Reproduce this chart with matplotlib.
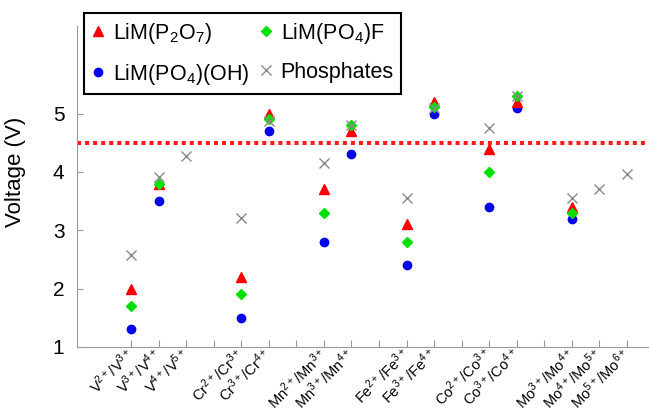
import matplotlib
matplotlib.use('Agg')
import matplotlib.pyplot as plt
import numpy as np

plt.rcParams['font.family'] = ['Liberation Sans', 'DejaVu Sans']
plt.rcParams['mathtext.default'] = 'regular'

# Redox couples along the x axis (blank slots separate the metals)
couples = [r'V$^{2+}$/V$^{3+}$', r'V$^{3+}$/V$^{4+}$', r'V$^{4+}$/V$^{5+}$', '',
           r'Cr$^{2+}$/Cr$^{3+}$', r'Cr$^{3+}$/Cr$^{4+}$', '',
           r'Mn$^{2+}$/Mn$^{3+}$', r'Mn$^{3+}$/Mn$^{4+}$', '',
           r'Fe$^{2+}$/Fe$^{3+}$', r'Fe$^{3+}$/Fe$^{4+}$', '',
           r'Co$^{2+}$/Co$^{3+}$', r'Co$^{3+}$/Co$^{4+}$', '',
           r'Mo$^{3+}$/Mo$^{4+}$', r'Mo$^{4+}$/Mo$^{5+}$', r'Mo$^{5+}$/Mo$^{6+}$']

# Voltages per couple (NaN where no value)
nan = np.nan
v_p2o7 = [2.0, 3.8, nan, nan, 2.2, 5.0, nan, 3.7, 4.7, nan, 3.1, 5.2, nan, 4.4, 5.2, nan, 3.4, nan, nan]
v_po4f = [1.7, 3.8, nan, nan, 1.9, 4.9, nan, 3.3, 4.8, nan, 2.8, 5.12, nan, 4.0, 5.3, nan, 3.3, nan, nan]
v_po4oh = [1.3, 3.5, nan, nan, 1.5, 4.7, nan, 2.8, 4.3, nan, 2.4, 5.0, nan, 3.4, 5.1, nan, 3.2, nan, nan]
v_phos = [2.57, 3.91, 4.28, nan, 3.21, 4.88, nan, 4.16, 4.8, nan, 3.56, 5.1, nan, 4.76, 5.3, nan, 3.55, 3.71, 3.97]
v_limit = 4.5

x = np.arange(1, len(couples) + 1)

fig = plt.figure(figsize=(6.49, 4.12), dpi=100)
ax = fig.add_axes([77 / 649, 65 / 412, 572 / 649, 321 / 412])

ax.axhline(v_limit, color='#ff1a1a', linestyle=(0, (1, 1)), linewidth=2.9, zorder=1)

ax.plot(x, v_p2o7, '^', color='#ff0000', markersize=6.5, label=r'LiM(P$_2$O$_7$)', zorder=3)
ax.plot(x, v_po4f, 'D', color='#00e000', markersize=5, label=r'LiM(PO$_4$)F', zorder=4)
ax.plot(x, v_po4oh, 'o', color='#0000ee', markersize=6, label=r'LiM(PO$_4$)(OH)', zorder=2)
ax.plot(x, v_phos, 'x', color='#8a8a8a', markersize=7, markeredgewidth=1, label='Phosphates', zorder=5)

ax.set_xlim(-0.96, 19.8)
ax.set_ylim(1, 6.5)
ax.set_yticks([1, 2, 3, 4, 5])
ax.set_xticks(x)
ax.set_xticklabels(couples, rotation=45, ha='right', va='center',
                   rotation_mode='anchor', fontsize=10.5)
ax.tick_params(axis='y', labelsize=15, direction='in', length=4, color='#999999', pad=9)
ax.tick_params(axis='x', direction='in', length=5, color='#999999', pad=3)
ax.set_ylabel('Voltage (V)', fontsize=16)
ax.yaxis.set_label_coords(-0.089, 0.545)

for side in ['top', 'right']:
    ax.spines[side].set_visible(False)
for side in ['left', 'bottom']:
    ax.spines[side].set_color('#999999')

handles, labels = ax.get_legend_handles_labels()
order = [0, 2, 1, 3]
leg = fig.legend([handles[i] for i in order], [labels[i] for i in order],
                 loc='upper left', bbox_to_anchor=(84 / 649, 1 - 13 / 412), ncol=2,
                 fontsize=15.5, frameon=True, fancybox=False, framealpha=1,
                 handlelength=0.6, handletextpad=0.4, columnspacing=0.45,
                 borderpad=0.35, labelspacing=0.75, borderaxespad=0)
leg.get_frame().set_edgecolor('black')
leg.get_frame().set_linewidth(1.5)

fig.savefig('out.png', dpi=100)
